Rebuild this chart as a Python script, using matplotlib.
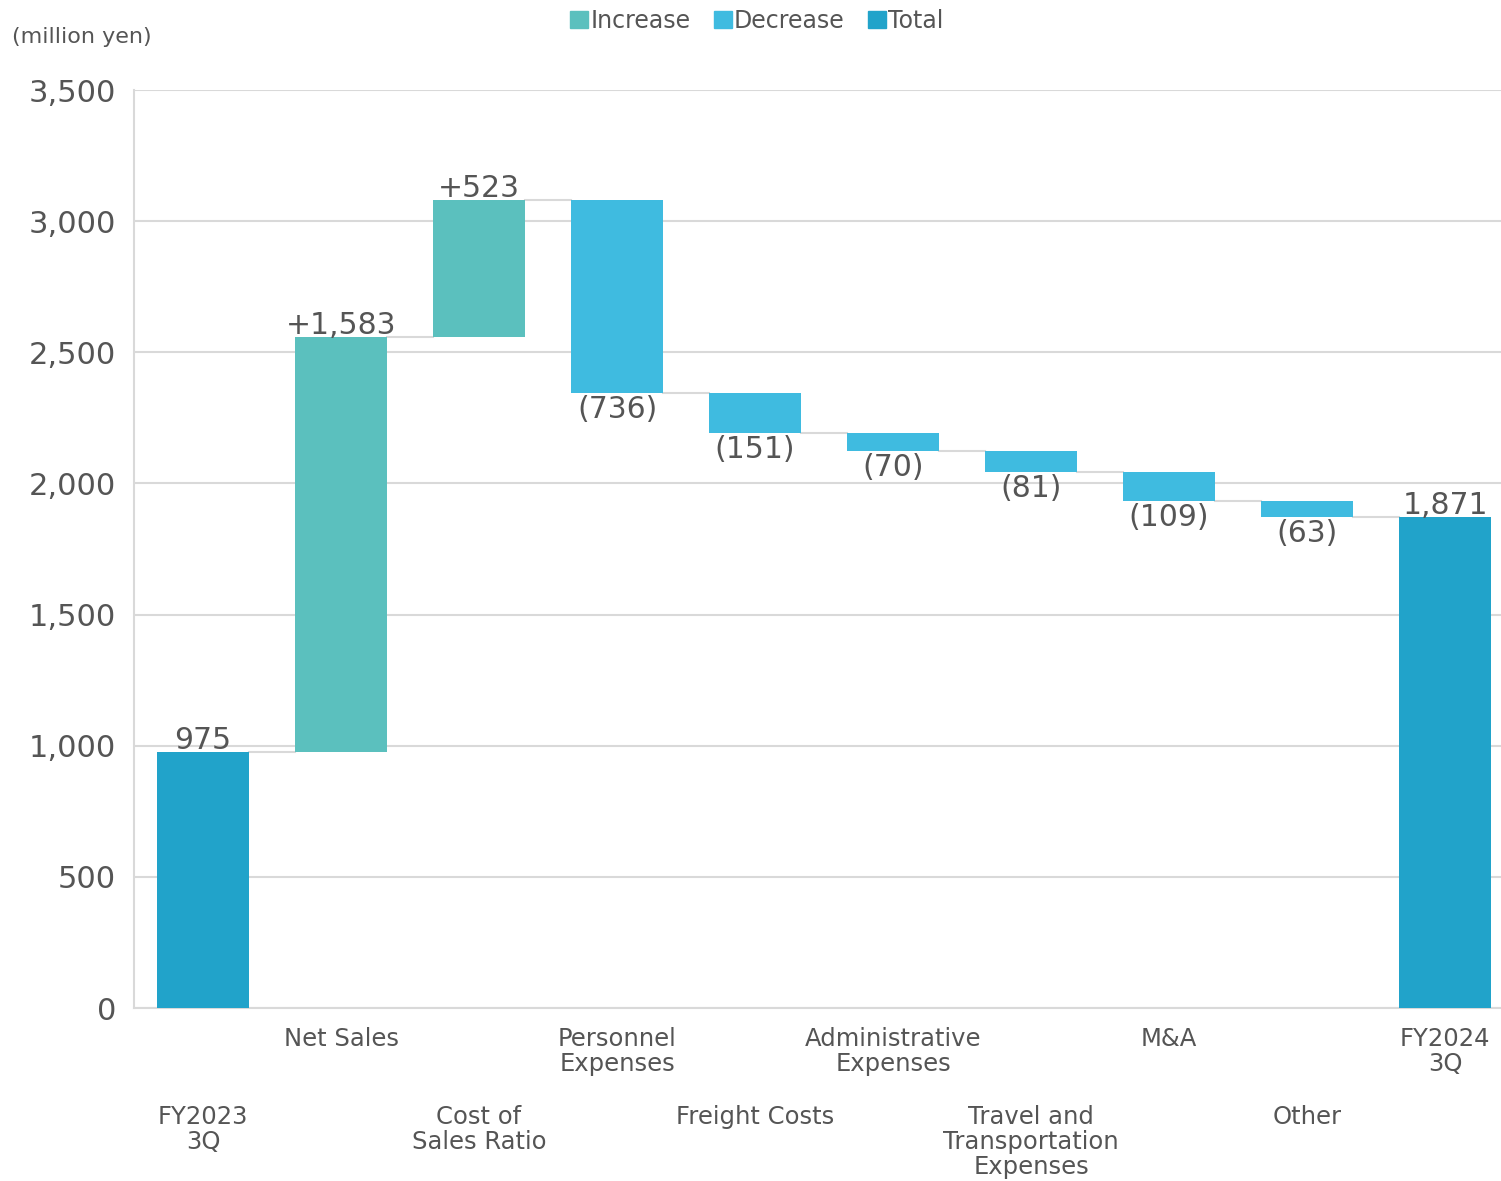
import matplotlib
matplotlib.use("Agg")
from matplotlib import pyplot as plt
from matplotlib.patches import Patch
import matplotlib.transforms as mtrans
import numpy as np

plt.rcParams['font.family'] = ['DejaVu Sans']

categories = ["FY2023\n3Q", "Net Sales", "Cost of\nSales Ratio", "Personnel\nExpenses",
              "Freight Costs", "Administrative\nExpenses", "Travel and\nTransportation\nExpenses",
              "M&A", "Other", "FY2024\n3Q"]
changes = [975, 1583, 523, -736, -151, -70, -81, -109, -63, 1871]
kinds = ["total", "inc", "inc", "dec", "dec", "dec", "dec", "dec", "dec", "total"]
labels = ["975", "+1,583", "+523", "(736)", "(151)", "(70)", "(81)", "(109)", "(63)", "1,871"]

colors = {"inc": "#5BC0BE", "dec": "#3FBBE0", "total": "#21A3CA"}
txt = "#555555"
grid = "#d9d9d9"

fig = plt.figure(figsize=(15.01, 11.81), dpi=100)
ax = fig.add_axes([134/1501, 1 - 1008/1181, (1501-134)/1501, (1008-90)/1181])

w = 0.667
level = 0
for i, (c, k) in enumerate(zip(changes, kinds)):
    if k == "total":
        b, t = 0, c
        level = c
    else:
        b = level if c > 0 else level + c
        t = level + c if c > 0 else level
        level = level + c
    ax.bar(i, t - b, bottom=b, width=w, color=colors[k], zorder=3)
    if k == "dec":
        ax.text(i, b - 8, labels[i], ha="center", va="top", fontsize=21.5, color=txt)
    else:
        ax.text(i, t - 12, labels[i], ha="center", va="bottom", fontsize=21.5, color=txt)

# connector lines
lev = 0
for i in range(len(changes) - 1):
    lev = changes[i] if kinds[i] == "total" else lev + changes[i]
    ax.plot([i + w/2, i + 1 - w/2], [lev, lev], color=grid, lw=1.5, zorder=2)

ax.set_xlim(-0.5, (1501 - 203) / 138)
ax.set_ylim(0, 3500)
ax.set_yticks(np.arange(0, 3501, 500))
ax.set_yticklabels([f"{v:,}" for v in range(0, 3501, 500)], fontsize=22, color=txt)
ax.yaxis.grid(True, color=grid, lw=1.5, zorder=0)
ax.set_axisbelow(True)
ax.tick_params(axis="y", length=0, pad=13)
ax.tick_params(axis="x", length=0)
ax.set_xticks([])
for s in ["top", "right"]:
    ax.spines[s].set_visible(False)
for s in ["left", "bottom"]:
    ax.spines[s].set_color(grid)
    ax.spines[s].set_linewidth(1.5)

trans = mtrans.blended_transform_factory(ax.transData, fig.transFigure)
for i, cat in enumerate(categories):
    ypix = 1027 if i % 2 == 1 else 1105
    ax.text(i, 1 - ypix/1181, cat, transform=trans,
            ha="center", va="top", fontsize=17.5, color=txt, linespacing=1.05)

fig.text(12/1501, 1 - 37/1181, "(million yen)", fontsize=16, color=txt, va="center")

handles = [Patch(color=colors["inc"], label="Increase"),
           Patch(color=colors["dec"], label="Decrease"),
           Patch(color=colors["total"], label="Total")]
leg = fig.legend(handles=handles, loc="center", bbox_to_anchor=(757/1501, 1 - 21/1181), ncol=3,
                 frameon=False, fontsize=17, handlelength=0.75, handleheight=0.75,
                 handletextpad=0.1, columnspacing=1.0)
for t in leg.get_texts():
    t.set_color(txt)

fig.savefig("out.png", dpi=100)
